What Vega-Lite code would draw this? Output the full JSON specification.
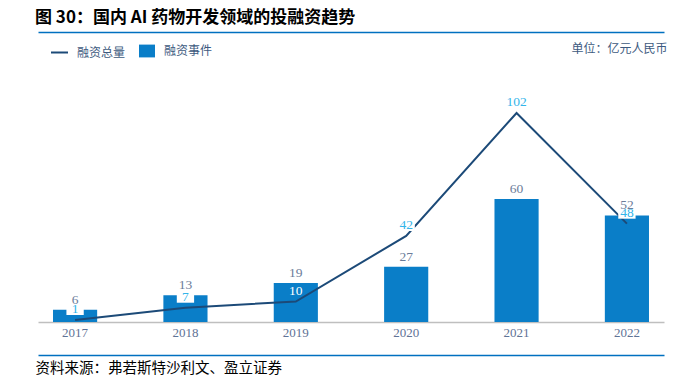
{
  "$schema": "https://vega.github.io/schema/vega-lite/v6.json",
  "width": 626,
  "height": 282,
  "autosize": "none",
  "padding": {"left": 38, "top": 40, "right": 29, "bottom": 66},
  "background": "white",
  "title": {"text": "图 30：国内 AI 药物开发领域的投融资趋势", "anchor": "start", "frame": "group", "dx": -3, "offset": 5, "font": "Noto Sans CJK SC", "fontSize": 17, "fontWeight": "bold", "color": "#000000"},
  "config": {"view": {"stroke": null}, "axis": {"grid": false}},
  "data": {"values": [
    {"year": "2017", "events": 6, "amount": 1},
    {"year": "2018", "events": 13, "amount": 7},
    {"year": "2019", "events": 19, "amount": 10},
    {"year": "2020", "events": 27, "amount": 42},
    {"year": "2021", "events": 60, "amount": 102},
    {"year": "2022", "events": 52, "amount": 48}
  ]},
  "resolve": {"axis": {"x": "independent", "y": "independent"}},
  "layer": [
    {
      "mark": {"type": "bar"},
      "encoding": {
        "x": {"field": "year", "type": "ordinal", "scale": {"paddingInner": 0.6, "paddingOuter": 0.136},
          "axis": {"orient": "bottom", "title": null, "labelFont": "Liberation Serif", "labelFontSize": 13, "labelColor": "#5f7396", "labelAngle": 0, "ticks": false, "labelPadding": 4, "domainColor": "#bfbfbf", "domainWidth": 1.5}},
        "y": {"field": "events", "type": "quantitative", "scale": {"domain": [0, 137.6], "nice": false},
          "axis": {"orient": "right", "title": "单位：亿元人民币", "labels": false, "ticks": false, "domain": false, "grid": false, "titleAngle": 0, "titleAlign": "right", "titleBaseline": "middle", "titleX": 3, "titleY": 8, "titleFont": "Noto Sans CJK SC", "titleFontSize": 12, "titleFontWeight": "normal", "titleColor": "#3d5a80"}},
        "fill": {"datum": "融资事件", "type": "nominal", "scale": {"range": ["#0a7ec8"]},
          "legend": {"orient": "none", "legendX": 101, "legendY": 3, "title": null, "symbolType": "M-1,-0.8H1V0.8H-1Z", "symbolSize": 256, "symbolStrokeWidth": 0, "labelFont": "Noto Sans CJK SC", "labelFontSize": 12, "labelColor": "#3d5a80", "labelOffset": 9}}
      }
    },
    {
      "mark": {"type": "line", "strokeWidth": 2},
      "encoding": {
        "x": {"field": "year", "type": "ordinal",
          "axis": {"orient": "bottom", "offset": 33, "labels": false, "ticks": false, "domainColor": "#0070c0", "domainWidth": 1.5, "title": "资料来源：弗若斯特沙利文、盈立证券", "titleX": -3, "titleY": 13, "titleAlign": "left", "titleBaseline": "middle", "titleFont": "Noto Sans CJK SC", "titleFontSize": 14.5, "titleFontWeight": "normal", "titleColor": "#000000"}},
        "y": {"field": "amount", "type": "quantitative", "axis": null},
        "stroke": {"datum": "融资总量", "type": "nominal", "scale": {"range": ["#1c4a78"]},
          "legend": {"orient": "none", "legendX": 12, "legendY": 3, "title": null, "symbolType": "stroke", "symbolSize": 289, "symbolStrokeWidth": 2, "labelFont": "Noto Sans CJK SC", "labelFontSize": 12, "labelColor": "#3d5a80", "labelOffset": 8}}
      }
    },
    {
      "transform": [{"filter": "datum.year != '2019'"}],
      "mark": {"type": "point", "filled": true, "shape": "M-1,-0.7H1V0.7H-1Z", "size": 300, "color": "white", "opacity": 1, "yOffset": -11},
      "encoding": {
        "x": {"field": "year", "type": "ordinal", "axis": null},
        "y": {"field": "amount", "type": "quantitative", "axis": null}
      }
    },
    {
      "mark": {"type": "text", "dy": -11, "font": "Liberation Serif", "fontSize": 13.5},
      "encoding": {
        "x": {"field": "year", "type": "ordinal", "axis": null},
        "y": {"field": "amount", "type": "quantitative", "axis": null},
        "text": {"field": "amount"},
        "color": {"condition": {"test": "datum.year == '2019'", "value": "#ffffff"}, "value": "#33b5ea"}
      }
    },
    {
      "mark": {"type": "text", "dy": -10, "font": "Liberation Serif", "fontSize": 13.5, "color": "#6b7c99"},
      "encoding": {
        "x": {"field": "year", "type": "ordinal",
          "axis": {"orient": "top", "offset": 8, "labels": false, "ticks": false, "title": null, "domainColor": "#0070c0", "domainWidth": 1.5}},
        "y": {"field": "events", "type": "quantitative", "axis": null},
        "text": {"field": "events"}
      }
    }
  ]
}
